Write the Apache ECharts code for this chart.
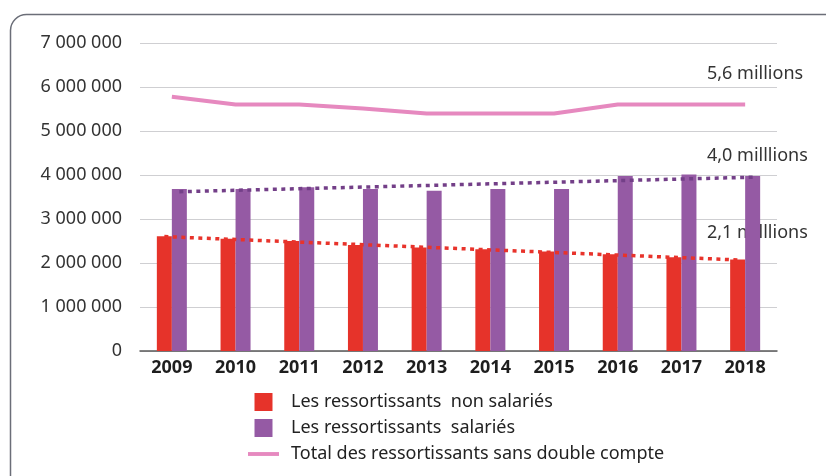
<!DOCTYPE html>
<html>
<head>
    <meta charset="utf-8">
    <title>Ressortissants</title>
    <style>
        html, body { margin: 0; padding: 0; background: #fff; }
    </style>
</head>
<body>
    <div id="main" style="width: 826px;height:476px;"></div>
    <script src="https://cdn.jsdelivr.net/npm/echarts@6/dist/echarts.min.js"></script>
    <script>
        var years = ['2009', '2010', '2011', '2012', '2013', '2014', '2015', '2016', '2017', '2018'];
        var nonSalaries = [2610000, 2550000, 2500000, 2410000, 2350000, 2310000, 2260000, 2200000, 2130000, 2080000];
        var salaries = [3680000, 3680000, 3720000, 3680000, 3640000, 3680000, 3680000, 3980000, 4010000, 3980000];
        var total = [5780000, 5600000, 5600000, 5510000, 5400000, 5400000, 5400000, 5600000, 5600000, 5600000];
        // trend lines: value at first and last year
        var trendNonSalaries = [2600000, 2070000];
        var trendSalaries = [3620000, 3950000];
        var annotations = ['5,6 millions', '4,0 milllions', '2,1 milllions'];

        var names = ['Les ressortissants  non salariés', 'Les ressortissants  salariés', 'Total des ressortissants sans double compte'];
        var font = 'Noto Sans';

        function fmt(v) {
            return String(v).replace(/\B(?=(\d{3})+(?!\d))/g, ' ');
        }

        function trend(vals) {
            return [[{ coord: [years[0], vals[0]] }, { coord: [years[years.length - 1], vals[1]] }]];
        }

        var myChart = echarts.init(document.getElementById('main'));
        var option = {
            animation: false,
            backgroundColor: '#fff',
            textStyle: { fontFamily: font },
            grid: { left: 140, right: 49, top: 43, bottom: 125 },
            legend: {
                orient: 'vertical',
                left: 243,
                top: 388,
                itemWidth: 31,
                itemHeight: 18,
                itemGap: 8,
                selectedMode: false,
                textStyle: { fontSize: 18, color: '#222', fontFamily: font, padding: [0, 0, 0, 7] },
                data: [
                    { name: names[0], icon: 'path://M0,0H10V10H0Z' },
                    { name: names[1], icon: 'path://M0,0H10V10H0Z' },
                    { name: names[2], icon: 'path://M0,0H80V10H0Z' }
                ]
            },
            xAxis: {
                type: 'category',
                data: years,
                axisLine: { lineStyle: { color: '#5a5a5a', width: 1.5 } },
                axisTick: { show: false },
                axisLabel: { fontSize: 18, fontWeight: 'bold', color: '#1e1e1e', margin: 8 }
            },
            yAxis: {
                type: 'value',
                min: 0,
                max: 7000000,
                interval: 1000000,
                axisLine: { show: false },
                axisTick: { show: false },
                splitLine: { lineStyle: { color: '#cfcfd2', width: 1.2 } },
                axisLabel: { fontSize: 18, color: '#333', margin: 18, formatter: fmt }
            },
            series: [{
                    name: names[0],
                    type: 'bar',
                    data: nonSalaries,
                    barWidth: 15,
                    barGap: '0%',
                    itemStyle: { color: '#e6332a' },
                    markLine: {
                        silent: true,
                        symbol: 'none',
                        label: { show: false },
                        lineStyle: { color: '#e8332b', type: [4, 4.5], width: 3.5 },
                        data: trend(trendNonSalaries)
                    }
                },
                {
                    name: names[1],
                    type: 'bar',
                    data: salaries,
                    barWidth: 15,
                    itemStyle: { color: '#955aa4' },
                    markLine: {
                        silent: true,
                        symbol: 'none',
                        label: { show: false },
                        lineStyle: { color: '#733f88', type: [4, 4.5], width: 3.5 },
                        data: trend(trendSalaries)
                    }
                },
                {
                    name: names[2],
                    type: 'line',
                    data: total,
                    showSymbol: false,
                    itemStyle: { color: '#e689bf' },
                    lineStyle: { color: '#e689bf', width: 4 }
                }
            ],
            graphic: [{
                    type: 'rect',
                    left: 8,
                    top: 12,
                    shape: { width: 840, height: 480, r: 16 },
                    style: { fill: 'none', stroke: '#6b6e78', lineWidth: 1.5 },
                    silent: true
                },
                {
                    type: 'text', left: 707, top: 65,
                    style: { text: annotations[0], font: '18px "Noto Sans"', fill: '#333' }
                },
                {
                    type: 'text', left: 707, top: 147,
                    style: { text: annotations[1], font: '18px "Noto Sans"', fill: '#333' }
                },
                {
                    type: 'text', left: 707, top: 224,
                    style: { text: annotations[2], font: '18px "Noto Sans"', fill: '#333' }
                }
            ]
        };
        myChart.setOption(option);
    </script>
</body>
</html>
